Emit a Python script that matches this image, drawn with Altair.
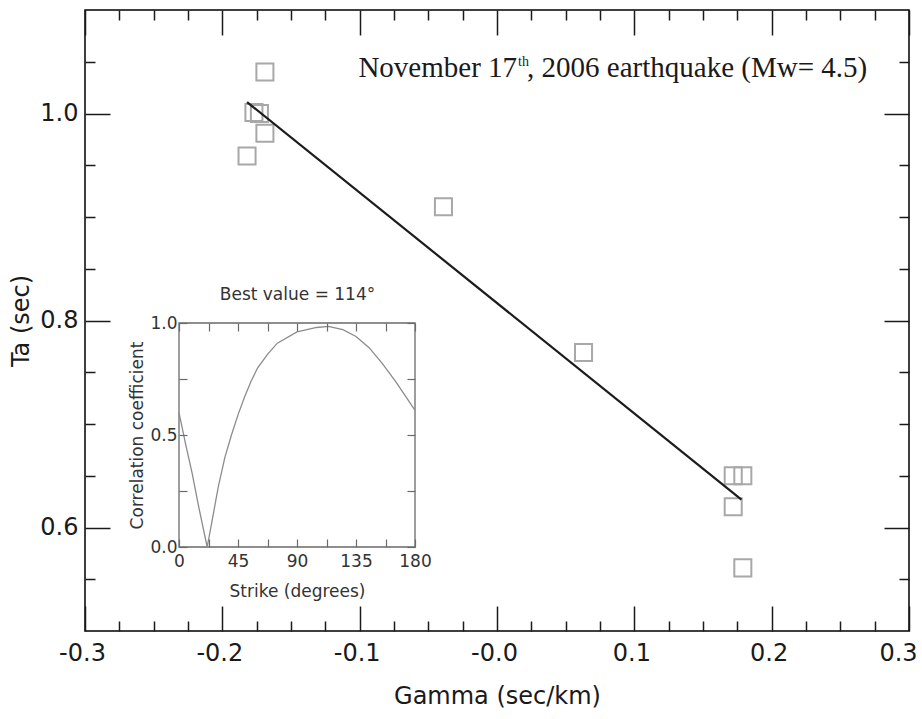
import altair as alt
import pandas as pd

# Ta versus Gamma measurements
GAMMA = [-0.169, -0.177, -0.173, -0.169, -0.182, -0.039, 0.063, 0.172, 0.179, 0.172, 0.179]
TA = [1.040, 1.001, 1.000, 0.981, 0.959, 0.910, 0.769, 0.650, 0.650, 0.620, 0.561]

# End points of the fitted line
FIT_GAMMA = [-0.182, 0.178]
FIT_TA = [1.011, 0.627]

# Correlation coefficient versus trial strike (inset)
STRIKE = [0, 5, 10, 15, 21.5, 25, 30, 35, 40, 45, 50, 55, 60, 67.5, 75, 90, 105,
          114, 125, 135, 145, 155, 165, 172, 180]
CORR = [0.60, 0.46, 0.33, 0.18, 0.0, 0.11, 0.27, 0.40, 0.50, 0.59, 0.67, 0.74, 0.80,
        0.86, 0.91, 0.96, 0.98, 0.985, 0.97, 0.94, 0.89, 0.82, 0.74, 0.68, 0.61]

# Axis ticks
X_DOMAIN = [-0.3, 0.3]
Y_DOMAIN = [0.5, 1.1]
X_MAJOR = [-0.3, -0.2, -0.1, 0.0, 0.1, 0.2, 0.3]
X_MINOR = [-0.275, -0.25, -0.225, -0.175, -0.15, -0.125, -0.075, -0.05, -0.025,
           0.025, 0.05, 0.075, 0.125, 0.15, 0.175, 0.225, 0.25, 0.275]
Y_MAJOR = [0.6, 0.8, 1.0]
Y_MINOR = [0.55, 0.65, 0.7, 0.75, 0.85, 0.9, 0.95, 1.05]
STRIKE_DOMAIN = [0, 180]
CORR_DOMAIN = [0, 1]
STRIKE_TICKS = [0, 22.5, 45, 67.5, 90, 112.5, 135, 157.5, 180]
CORR_TICKS = [0, 0.25, 0.5, 0.75, 1.0]

# Heading text, anchored in data units
HEAD_MAIN = "November 17"
HEAD_SUP = "th"
HEAD_REST = ", 2006 earthquake (Mw= 4.5)"
HEAD_GAMMA = 0.0146
HEAD_TA = 1.035

W, H = 824, 621
INSET_X = [94, 330]      # inset frame, pixels inside the plot area
INSET_Y = [537, 313]
MAJ, MIN, ITK = 25, 10, 8

SANS = "DejaVu Sans"
SERIF = "Liberation Serif"
INK = "#1a1a1a"
INSET_INK = "#6a6a6a"

pts_df = pd.DataFrame({"gamma": GAMMA, "ta": TA})
fit_df = pd.DataFrame({"gamma": FIT_GAMMA, "ta": FIT_TA})
corr_df = pd.DataFrame({"strike": STRIKE, "corr": CORR})
frame_df = pd.DataFrame({"s0": [STRIKE_DOMAIN[0]], "s1": [STRIKE_DOMAIN[1]],
                         "c0": [CORR_DOMAIN[0]], "c1": [CORR_DOMAIN[1]]})
head_df = pd.DataFrame({"gamma": [HEAD_GAMMA], "ta": [HEAD_TA]})

XS = alt.Scale(domain=X_DOMAIN, nice=False, zero=False)
YS = alt.Scale(domain=Y_DOMAIN, nice=False, zero=False)
SS = alt.Scale(domain=STRIKE_DOMAIN, range=INSET_X, nice=False, zero=False)
CS = alt.Scale(domain=CORR_DOMAIN, range=INSET_Y, nice=False, zero=False)


def tick_axis(orient, values, size, offset, color=INK, width=1.5, **kw):
    opts = dict(orient=orient, values=values, tickSize=size, offset=offset,
                domain=False, grid=False, ticks=True, tickColor=color,
                tickWidth=width, zindex=1, labelOverlap=False)
    opts.update(kw)
    if "labels" not in opts:
        opts["labels"] = False
    if "title" not in opts:
        opts["title"] = None
    return alt.Axis(**opts)


gamma_fmt = ("datum.value <= 0 ? '-' + format(abs(datum.value), '.1f') "
             ": format(datum.value, '.1f')")
# keep the last gamma label inside the page
gamma_shift = {"condition": {"test": "datum.value > 0.25", "value": -11}, "value": -3}

bottom_major = tick_axis("bottom", X_MAJOR, MAJ, -MAJ, labels=True, labelExpr=gamma_fmt,
                         labelFlush=False, labelOffset=gamma_shift, labelPadding=10,
                         labelFontSize=24, labelFont=SANS, labelColor=INK,
                         title="Gamma (sec/km)", titleFontSize=24, titleFont=SANS,
                         titleColor=INK, titleFontWeight="normal", titlePadding=19)
bottom_minor = tick_axis("bottom", X_MINOR, MIN, -MIN)
top_major = tick_axis("top", X_MAJOR, MAJ, -MAJ)
top_minor = tick_axis("top", X_MINOR, MIN, -MIN)
left_major = tick_axis("left", Y_MAJOR, MAJ, -MAJ, labels=True, format=".1f",
                       labelPadding=7, labelFontSize=24, labelFont=SANS,
                       labelColor=INK, title="Ta (sec)", titleFontSize=24,
                       titleFont=SANS, titleColor=INK, titleFontWeight="normal",
                       titlePadding=6)
left_minor = tick_axis("left", Y_MINOR, MIN, -MIN)
right_major = tick_axis("right", Y_MAJOR, MAJ, -MAJ)
right_minor = tick_axis("right", Y_MINOR, MIN, -MIN)

# Inset axes: ticks point inward from the inset frame
inset_bottom = tick_axis("bottom", STRIKE_TICKS, ITK, -(H - INSET_Y[0] + ITK),
                         color=INSET_INK, width=1.2, labels=True,
                         labelExpr="datum.value % 45 == 0 ? format(datum.value, 'd') : ''",
                         labelFlush=False, labelPadding=6, labelFontSize=17,
                         labelFont=SANS, labelColor="#333333",
                         title="Strike (degrees)", titleFontSize=17, titleFont=SANS,
                         titleColor="#333333", titleFontWeight="normal",
                         titlePadding=14)
inset_top = tick_axis("top", STRIKE_TICKS, ITK, -(INSET_Y[1] + ITK),
                      color=INSET_INK, width=1.2, title="Best value = 114°",
                      titleFontSize=17, titleFont=SANS, titleColor="#333333",
                      titleFontWeight="normal", titlePadding=19)
inset_left = tick_axis("left", CORR_TICKS, ITK, -(INSET_X[0] + ITK),
                       color=INSET_INK, width=1.2, labels=True,
                       labelExpr="datum.value % 0.5 == 0 ? format(datum.value, '.1f') : ''",
                       labelPadding=2, labelFontSize=17, labelFont=SANS,
                       labelColor="#333333", title="Correlation coefficient",
                       titleFontSize=17, titleFont=SANS, titleColor="#333333",
                       titleFontWeight="normal", titlePadding=3)
inset_right = tick_axis("right", CORR_TICKS, ITK, -(W - INSET_X[1] + ITK),
                        color=INSET_INK, width=1.2)

points = alt.Chart(pts_df).mark_point(
    shape="square", filled=False, size=290, color="#a8a8a8", strokeWidth=2, opacity=1
).encode(
    x=alt.X("gamma:Q", scale=XS, axis=bottom_major),
    y=alt.Y("ta:Q", scale=YS, axis=left_major),
)

fit = alt.Chart(fit_df).mark_line(color="#1c1c1c", strokeWidth=2.2).encode(
    x=alt.X("gamma:Q", scale=XS, axis=bottom_minor),
    y=alt.Y("ta:Q", scale=YS, axis=left_minor),
)

head_main = alt.Chart(head_df).mark_text(
    text=HEAD_MAIN, align="right", baseline="alphabetic", font=SERIF,
    fontSize=29, color=INK
).encode(
    x=alt.X("gamma:Q", scale=XS, axis=top_major),
    y=alt.Y("ta:Q", scale=YS, axis=right_major),
)

head_sup = alt.Chart(head_df).mark_text(
    text=HEAD_SUP, align="left", baseline="alphabetic", font=SERIF,
    fontSize=14, dx=1, dy=-11, color=INK
).encode(
    x=alt.X("gamma:Q", scale=XS, axis=top_minor),
    y=alt.Y("ta:Q", scale=YS, axis=right_minor),
)

head_rest = alt.Chart(head_df).mark_text(
    text=HEAD_REST, align="left", baseline="alphabetic", font=SERIF,
    fontSize=29, dx=10, color=INK
).encode(
    x=alt.X("gamma:Q", scale=XS, axis=None),
    y=alt.Y("ta:Q", scale=YS, axis=None),
)

main = alt.layer(points, fit, head_main, head_sup, head_rest).resolve_axis(
    x="independent", y="independent"
)

frame = alt.Chart(frame_df).mark_rect(
    fill="white", stroke=INSET_INK, strokeWidth=1.3
).encode(
    x=alt.X("s0:Q", scale=SS, axis=inset_top),
    x2="s1:Q",
    y=alt.Y("c0:Q", scale=CS, axis=inset_right),
    y2="c1:Q",
)

curve = alt.Chart(corr_df).mark_line(color="#8c8c8c", strokeWidth=1.3).encode(
    x=alt.X("strike:Q", scale=SS, axis=inset_bottom),
    y=alt.Y("corr:Q", scale=CS, axis=inset_left),
)

inset = alt.layer(frame, curve).resolve_axis(x="independent", y="independent")

chart = alt.layer(main, inset).resolve_scale(
    x="independent", y="independent"
).properties(
    width=W, height=H,
    padding={"left": 85, "top": 10, "right": 13, "bottom": 88},
    autosize=alt.AutoSizeParams(type="none"),
    background="white",
).configure_view(stroke="black", strokeWidth=1.5)

chart.save("out.html", embed_options={"renderer": "svg", "actions": False})
